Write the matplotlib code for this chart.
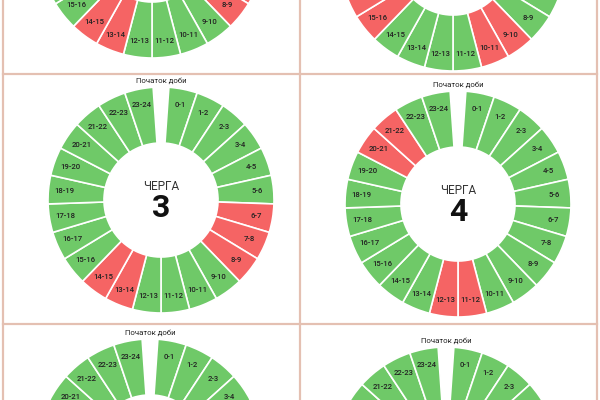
import numpy as np
import matplotlib.pyplot as plt
from matplotlib.patches import Wedge

plt.rcParams['font.family'] = ['Roboto', 'DejaVu Sans']

# дані: черги та години без світла (початок години)
queues = [1, 2, 3, 4, 5, 6]
off_hours = {
    1: [6, 7, 8, 13, 14],
    2: [9, 10, 15, 16],
    3: [6, 7, 8, 13, 14],
    4: [11, 12, 20, 21],
    5: [],
    6: [],
}
hour_labels = [f'{h}-{h + 1}' for h in range(24)]
title_top = 'Початок доби'
center_word = 'ЧЕРГА'

# розміщення кругів на картинці (пікселі, y зверху)
centers = {1: (152, -55), 2: (453, -42), 3: (161, 200),
           4: (458, 204), 5: (150, 452), 6: (446, 460)}
R_out, R_in = 113, 57
gap = 8.0
span = (360 - gap) / 24

green = '#6fc968'
red = '#f56464'


def visible(y):
    # текст, що повністю поза картинкою, не малюємо
    return -4 < y < 404


fig = plt.figure(figsize=(6, 4), dpi=100)
ax = fig.add_axes([0, 0, 1, 1])
ax.set_xlim(0, 600)
ax.set_ylim(0, 400)
ax.set_aspect('equal')
ax.axis('off')

for q in queues:
    cx, cy_px = centers[q]
    cy = 400 - cy_px
    for h in range(24):
        t_start = 90 - gap / 2 - h * span
        t_end = t_start - span
        col = red if h in off_hours[q] else green
        ax.add_patch(Wedge((cx, cy), R_out, t_end, t_start, width=R_out - R_in,
                           facecolor=col, edgecolor='white', linewidth=1.2))
        mid = np.radians(t_start - span / 2)
        rl = 0.855 * R_out
        ty = cy + rl * np.sin(mid)
        if visible(ty):
            ax.text(cx + rl * np.cos(mid), ty, hour_labels[h],
                    ha='center', va='center', fontsize=5.6, color='#222222',
                    fontweight='medium')
    if visible(cy + R_out + 6):
        ax.text(cx, cy + R_out + 6, title_top, ha='center', va='center',
                fontsize=5.6, color='#222222')
    if visible(cy):
        ax.text(cx, cy + 13, center_word, ha='center', va='center',
                fontsize=8.5, color='#333333')
        ax.text(cx, cy - 8, str(q), ha='center', va='center',
                fontsize=23, fontweight='bold', color='#111111')

# рамки карток
border = '#e4c0b2'
for x in [3, 300, 597]:
    ax.plot([x, x], [0, 400], color=border, lw=1.6)
for y in [74, 324]:
    ax.plot([3, 597], [400 - y, 400 - y], color=border, lw=1.6)

fig.savefig('out.png', dpi=100)
